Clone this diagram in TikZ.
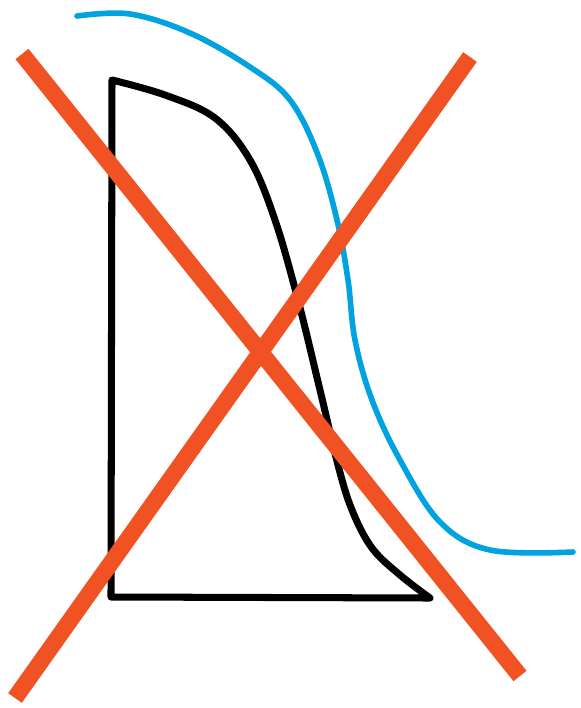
\documentclass[tikz,border=0pt]{standalone}
\usepackage{tikz}
\definecolor{crossred}{RGB}{240,82,35}
\definecolor{penblue}{RGB}{0,163,224}

\begin{document}
\begin{tikzpicture}[x=0.02cm, y=-0.02cm,
    outline/.style={line width=4pt, black, line join=round},
    pencurve/.style={line width=3.2pt, penblue, line cap=round},
    cross/.style={line width=9.5pt, crossred}]
    \useasboundingbox (0,0) rectangle (581,708);
    % the shape
    \draw[outline] plot[smooth, tension=0.6] coordinates {(430,598) (400,575) (372,548) (352,510) (338,465) (320,390) (298,300) (275,220) (250,160) (215,118) (165,95) (112,80)} -- (111,597) -- cycle;
    % blue line
    \draw[pencurve] plot[smooth, tension=0.6] coordinates {(77,16) (130,14) (190,33) (250,67) (290,100) (318,155) (337,220) (348,280) (355,340) (372,400) (400,460) (440,522) (490,550) (573,552)};
    % the cross
    \draw[cross] (22,54) -- (520,676);
    \draw[cross] (470,57) -- (15,698);
  \end{tikzpicture}
\end{document}
